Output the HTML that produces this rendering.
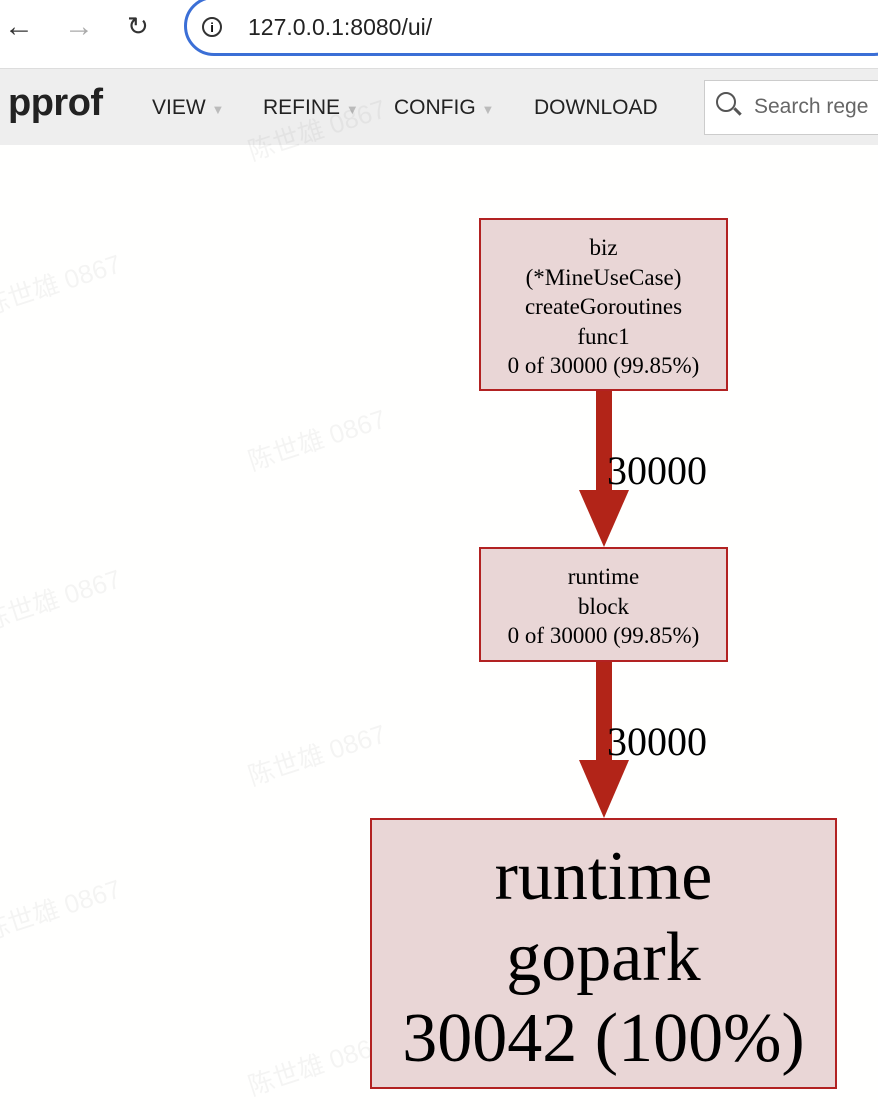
<!DOCTYPE html>
<html><head><meta charset="utf-8"><style>
body{margin:0;width:878px;height:1110px;overflow:hidden;background:#fffffe;font-family:"Liberation Sans",sans-serif;position:relative}
.t{position:absolute}
.box{position:absolute;background:#e9d6d6;border:2px solid #b22222;box-sizing:border-box;text-align:center;font-family:"Liberation Serif",serif;color:#000;white-space:nowrap}
.wm{position:absolute;color:rgba(0,0,0,0.045);font-size:26px;transform:rotate(-18deg);font-family:"Liberation Sans","Noto Sans CJK SC",sans-serif}
</style></head><body>
<div class="t" style="left:0;top:0;width:878px;height:68px;background:#fff;border-bottom:1px solid #ddd"></div>
<div class="t" style="left:4px;top:10px;font-size:30px;color:#333">&#8592;</div>
<div class="t" style="left:64px;top:10px;font-size:30px;color:#aaa">&#8594;</div>
<div class="t" style="left:127px;top:11px;font-size:26px;color:#333">&#8635;</div>
<div class="t" style="left:184px;top:-4px;width:720px;height:60px;border:3px solid #3b6fd6;border-radius:30px;box-sizing:border-box;background:#fff"></div>
<div class="t" style="left:202px;top:17px;width:20px;height:20px;border:2px solid #333;border-radius:50%;box-sizing:border-box;font-size:13px;text-align:center;line-height:17px;font-weight:bold">i</div>
<div class="t" style="left:248px;top:14px;font-size:23px;color:#222">127.0.0.1:8080/ui/</div>
<div class="t" style="left:0;top:69px;width:878px;height:76px;background:#eeeeee"></div>
<div class="t" style="left:8px;top:82px;font-size:38px;font-weight:bold;color:#222;letter-spacing:-0.5px">pprof</div>
<div class="t" style="left:152px;top:96px;font-size:21px;color:#222">VIEW <span style="color:#bbb;font-size:13px">&#9660;</span></div>
<div class="t" style="left:263px;top:96px;font-size:21px;color:#222">REFINE <span style="color:#bbb;font-size:13px">&#9660;</span></div>
<div class="t" style="left:394px;top:96px;font-size:21px;color:#222">CONFIG <span style="color:#bbb;font-size:13px">&#9660;</span></div>
<div class="t" style="left:534px;top:96px;font-size:21px;color:#222">DOWNLOAD</div>
<div class="t" style="left:704px;top:80px;width:200px;height:55px;background:#fff;border:1px solid #ccc;box-sizing:border-box"></div>
<div class="t" style="left:716px;top:92px;width:16px;height:16px;border:2.5px solid #555;border-radius:50%"></div>
<div class="t" style="left:733px;top:110px;width:9px;height:3px;background:#555;transform:rotate(45deg)"></div>
<div class="t" style="left:754px;top:95px;font-size:21px;color:#666">Search rege</div>

<div class="wm" style="left:-20px;top:265px">陈世雄 0867</div>
<div class="wm" style="left:245px;top:420px">陈世雄 0867</div>
<div class="wm" style="left:-20px;top:580px">陈世雄 0867</div>
<div class="wm" style="left:245px;top:735px">陈世雄 0867</div>
<div class="wm" style="left:-20px;top:890px">陈世雄 0867</div>
<div class="wm" style="left:245px;top:1045px">陈世雄 0867</div>
<div class="wm" style="left:245px;top:110px">陈世雄 0867</div>

<svg class="t" style="left:0;top:0" width="878" height="1110">
<rect x="596" y="390" width="16" height="102" fill="#b22418"/>
<polygon points="579,490 629,490 604,547" fill="#b22418"/>
<rect x="596" y="661" width="16" height="102" fill="#b22418"/>
<polygon points="579,760 629,760 604,818" fill="#b22418"/>
</svg>
<div class="t" style="left:607px;top:447px;font-family:'Liberation Serif',serif;font-size:40px">30000</div>
<div class="t" style="left:607px;top:718px;font-family:'Liberation Serif',serif;font-size:40px">30000</div>

<div class="box" style="left:479px;top:218px;width:249px;height:173px;padding-top:13px;font-size:23px;line-height:29.5px">biz<br>(*MineUseCase)<br>createGoroutines<br>func1<br>0 of 30000 (99.85%)</div>
<div class="box" style="left:479px;top:547px;width:249px;height:115px;padding-top:13px;font-size:23px;line-height:29.5px">runtime<br>block<br>0 of 30000 (99.85%)</div>
<div class="box" style="left:370px;top:818px;width:467px;height:271px;padding-top:16px;font-size:70px;line-height:81px">runtime<br>gopark<br>30042 (100%)</div>
</body></html>
